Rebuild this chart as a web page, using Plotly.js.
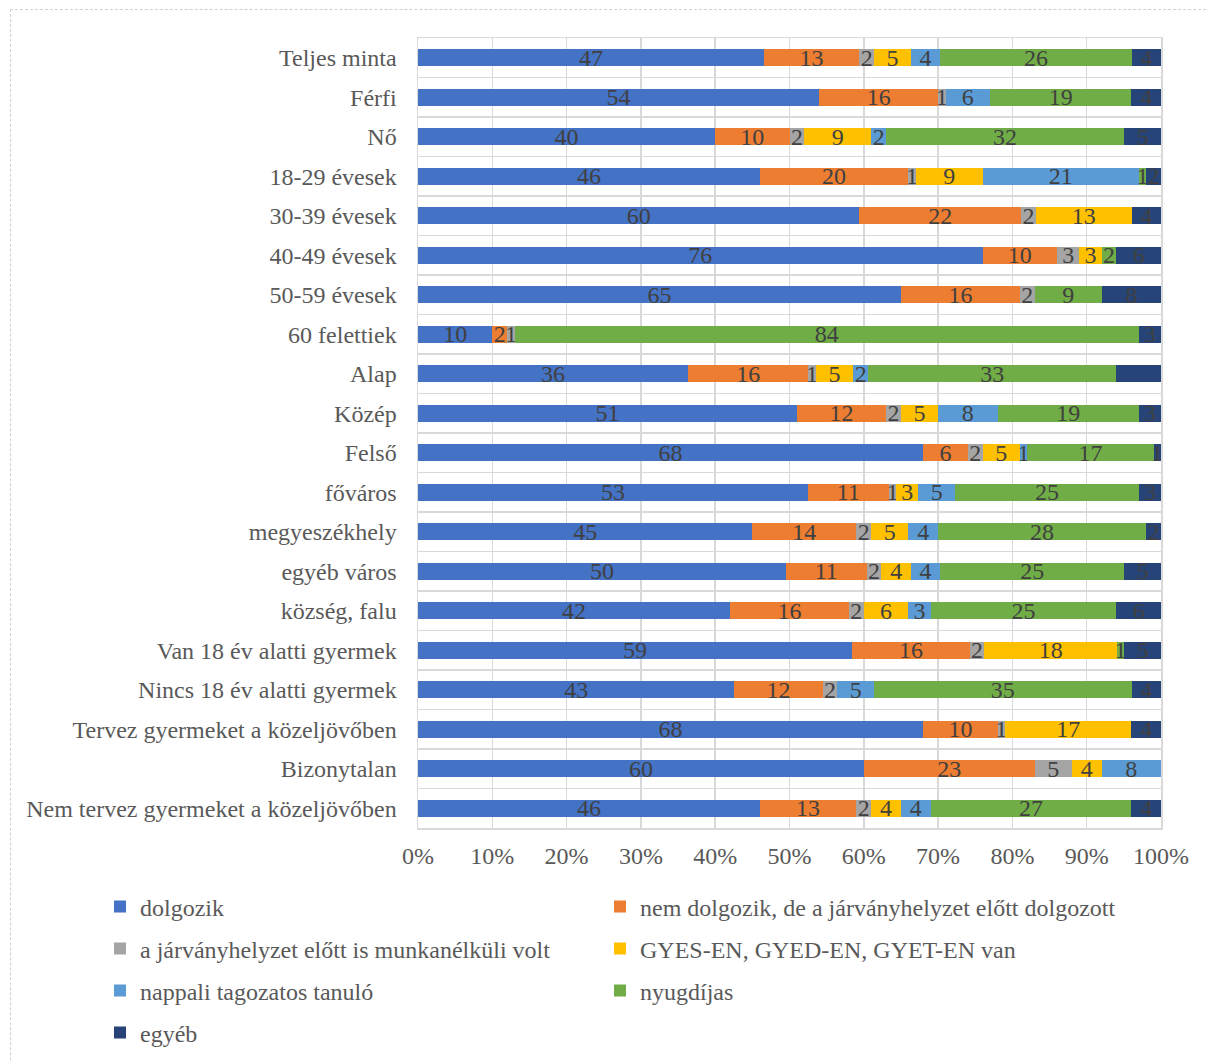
<!DOCTYPE html>
<html>
<head>
<meta charset="utf-8">
<script src="https://cdn.plot.ly/plotly-3.0.1.min.js"></script>
<style>
  html, body { margin: 0; padding: 0; background: #fff; }
  #chart { width: 1208px; height: 1061px; }
  #frame { position: absolute; left: 10px; top: 9px; width: 1300px; height: 1200px;
           border-left: 1px dashed #d0d0d0; border-top: 1px dashed #d0d0d0; pointer-events: none; }
</style>
</head>
<body>
<div id="chart"></div>
<div id="frame"></div>
<script>
const categories = [
  "Teljes minta", "Férfi", "Nő", "18-29 évesek", "30-39 évesek", "40-49 évesek",
  "50-59 évesek", "60 felettiek", "Alap", "Közép", "Felső", "főváros",
  "megyeszékhely", "egyéb város", "község, falu", "Van 18 év alatti gyermek",
  "Nincs 18 év alatti gyermek", "Tervez gyermeket a közeljövőben", "Bizonytalan",
  "Nem tervez gyermeket a közeljövőben"
];

const seriesNames = [
  "dolgozik",
  "nem dolgozik, de a járványhelyzet előtt dolgozott",
  "a járványhelyzet előtt is munkanélküli volt",
  "GYES-EN, GYED-EN, GYET-EN van",
  "nappali tagozatos tanuló",
  "nyugdíjas",
  "egyéb"
];

const dolgozik        = [47, 54, 40, 46, 60, 76, 65, 10, 36, 51, 68, 53, 45, 50, 42, 59, 43, 68, 60, 46];
const nemDolgozik     = [13, 16, 10, 20, 22, 10, 16,  2, 16, 12,  6, 11, 14, 11, 16, 16, 12, 10, 23, 13];
const munkanelkuli    = [ 2,  1,  2,  1,  2,  3,  2,  1,  1,  2,  2,  1,  2,  2,  2,  2,  2,  1,  5,  2];
const gyes            = [ 5,  0,  9,  9, 13,  3,  0,  0,  5,  5,  5,  3,  5,  4,  6, 18,  0, 17,  4,  4];
const tanulo          = [ 4,  6,  2, 21,  0,  0,  0,  0,  2,  8,  1,  5,  4,  4,  3,  0,  5,  0,  8,  4];
const nyugdijas       = [26, 19, 32,  1,  0,  2,  9, 84, 33, 19, 17, 25, 28, 25, 25,  1, 35,  0,  0, 27];
const egyeb           = [ 4,  4,  5,  2,  4,  6,  8,  3,  6,  3,  1,  3,  2,  5,  6,  5,  4,  4,  0,  4];

const seriesValues = [dolgozik, nemDolgozik, munkanelkuli, gyes, tanulo, nyugdijas, egyeb];
const colors = ["#4472C4", "#ED7D31", "#A5A5A5", "#FFC000", "#5B9BD5", "#70AD47", "#264478"];
const legendIds = ["legend", "legend2", "legend3", "legend4", "legend5", "legend6", "legend7"];

const FONT = "Liberation Serif, Times New Roman, serif";

const traces = seriesValues.map((vals, i) => ({
  type: "bar",
  orientation: "h",
  name: seriesNames[i],
  y: categories,
  x: vals,
  text: vals.map(v => v ? String(v) : ""),
  textposition: "inside",
  insidetextanchor: "middle",
  textangle: 0,
  constraintext: "none",
  cliponaxis: false,
  textfont: { family: FONT, size: 24, color: "#404040" },
  marker: { color: colors[i], line: { width: 0 } },
  legend: legendIds[i],
  hoverinfo: "x+y+name"
}));

const plotL = 418, plotR = 1161, plotT = 38, plotB = 828;
const plotH = plotB - plotT, plotW = plotR - plotL;
function legendAt(xpx, ypx) {
  return {
    orientation: "v", x: (xpx - plotL) / plotW, xanchor: "left",
    y: -(ypx - plotB) / plotH, yanchor: "middle",
    font: { family: FONT, size: 24, color: "#595959" },
    bgcolor: "rgba(0,0,0,0)", itemclick: false
  };
}

const rowsY = [907, 949, 991, 1033];
const layout = {
  width: 1208, height: 1061,
  margin: { l: plotL, r: 1208 - plotR, t: plotT, b: 1061 - plotB, autoexpand: false },
  paper_bgcolor: "#ffffff",
  plot_bgcolor: "#ffffff",
  barmode: "stack",
  barnorm: "percent",
  bargap: 0.57,
  font: { family: FONT, size: 24, color: "#595959" },
  uniformtext: { mode: "show", minsize: 24 },
  showlegend: true,
  legend:  legendAt(100, rowsY[0]),
  legend2: legendAt(600, rowsY[0]),
  legend3: legendAt(100, rowsY[1]),
  legend4: legendAt(600, rowsY[1]),
  legend5: legendAt(100, rowsY[2]),
  legend6: legendAt(600, rowsY[2]),
  legend7: legendAt(100, rowsY[3]),
  xaxis: {
    range: [0, 100], dtick: 10, tick0: 0, ticksuffix: "%",
    showgrid: true, gridcolor: "#d9d9d9", gridwidth: 1.5,
    zeroline: false, showline: true, linecolor: "#d9d9d9", linewidth: 1.5, mirror: true,
    ticks: "outside", ticklen: 6, tickcolor: "rgba(0,0,0,0)",
    tickfont: { family: FONT, size: 24, color: "#595959" },
    fixedrange: true
  },
  yaxis: {
    type: "category", autorange: "reversed",
    tickson: "boundaries", showgrid: true, gridcolor: "#d9d9d9", gridwidth: 1.5,
    showline: true, linecolor: "#d9d9d9", linewidth: 1.5, mirror: true,
    ticks: "", ticklabelstandoff: 15,
    tickfont: { family: FONT, size: 24, color: "#595959" },
    fixedrange: true
  }
};

Plotly.newPlot("chart", traces, layout, { displayModeBar: false, staticPlot: true });
</script>
</body>
</html>
